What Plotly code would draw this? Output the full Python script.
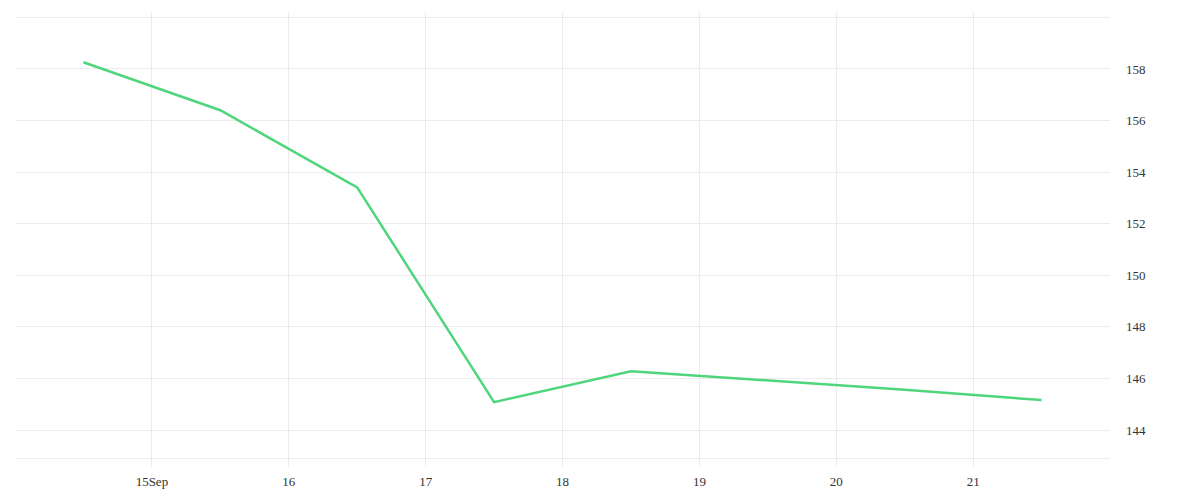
import plotly.graph_objects as go

dates = ["2023-09-14 12:00", "2023-09-15 12:00", "2023-09-16 12:00", "2023-09-17 12:00",
         "2023-09-18 12:00", "2023-09-19 12:00", "2023-09-20 12:00", "2023-09-21 12:00"]
values = [158.26, 156.40, 153.41, 145.08, 146.28, 145.92, 145.56, 145.16]

x_tick_vals = ["2023-09-14", "2023-09-15", "2023-09-16", "2023-09-17", "2023-09-18",
               "2023-09-19", "2023-09-20", "2023-09-21", "2023-09-22"]
x_tick_text = ["", "15Sep", "16", "17", "18", "19", "20", "21", ""]

y_tick_vals = [142.914, 144, 146, 148, 150, 152, 154, 156, 158, 160]
y_tick_text = ["", "144", "146", "148", "150", "152", "154", "156", "158", ""]

fig = go.Figure()
fig.add_trace(go.Scatter(
    x=dates, y=values, mode="lines",
    line=dict(color="#4fd67d", width=2.5),
    hoverinfo="skip", showlegend=False,
))

grid = "#ececec"
fig.update_layout(
    width=1200, height=500,
    margin=dict(l=7, r=98, t=4, b=41),
    paper_bgcolor="white", plot_bgcolor="white",
    font=dict(family="Liberation Serif", size=13, color="#333333"),
    xaxis=dict(
        type="date",
        range=["2023-09-14", "2023-09-22"],
        tickmode="array", tickvals=x_tick_vals, ticktext=x_tick_text,
        showgrid=True, gridcolor=grid, gridwidth=1,
        showline=False, zeroline=False, ticks="",
        ticklabelstandoff=5,
    ),
    yaxis=dict(
        side="right",
        range=[142.565, 160.21],
        tickmode="array", tickvals=y_tick_vals, ticktext=y_tick_text,
        showgrid=True, gridcolor=grid, gridwidth=1,
        showline=False, zeroline=False, ticks="",
        ticklabelstandoff=15,
    ),
)

fig.write_html("out.html", config={"displayModeBar": False})
